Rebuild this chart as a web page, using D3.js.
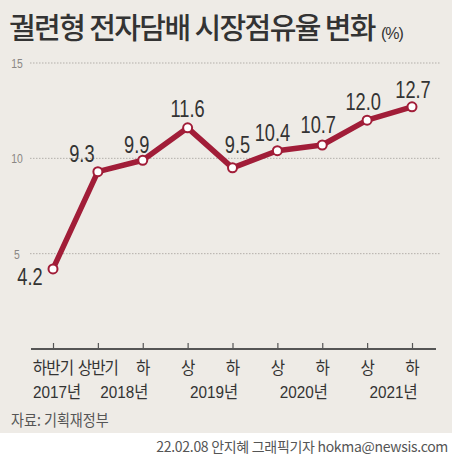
<!DOCTYPE html>
<html>
<head>
<meta charset="utf-8">
<script src="https://cdn.jsdelivr.net/npm/d3@7"></script>
<style>
  body { margin: 0; background: #fff; }
  svg { display: block; }
  .num { font-family: "Liberation Sans", "Noto Sans CJK KR", sans-serif; }
  .kr { font-family: "Noto Sans CJK KR", sans-serif; }
</style>
</head>
<body>
<script>
var width = 452;
var height = 459;

// data
var periods = ["하반기", "상반기", "하", "상", "하", "상", "하", "상", "하"];
var shares = [4.2, 9.3, 9.9, 11.6, 9.5, 10.4, 10.7, 12.0, 12.7];
var years = ["2017년", "2018년", "2019년", "2020년", "2021년"];
var yearSpans = [[0, 0], [1, 2], [3, 4], [5, 6], [7, 8]];
var yTicks = [5, 10, 15];

// label offsets relative to each point (dx, dy of baseline)
var labelPos = [[-23, 16], [-16, -10], [-6, -7], [0, -11], [5, -15], [-5, -10], [-4, -12], [-4, -10], [1, -9]];

var x = d3.scalePoint()
    .domain(d3.range(periods.length))
    .range([53, 412]);

var y = d3.scaleLinear()
    .domain([0, 15])
    .range([349, 63]);

var svg = d3.select("body")
    .append("svg")
    .attr("width", width)
    .attr("height", height);

svg.append("rect")
    .attr("width", width)
    .attr("height", 433)
    .attr("fill", "#eeebe6");

// condensed text helper
function squeeze(sel, sx) {
    sel.attr("transform", function () {
        var t = d3.select(this);
        return "translate(" + t.attr("x") + "," + t.attr("y") + ") scale(" + sx + ",1)";
    }).attr("x", 0).attr("y", 0);
}

// title
var title = svg.append("text")
    .attr("x", 9)
    .attr("y", 39)
    .attr("class", "kr")
    .attr("font-size", "29px")
    .attr("font-weight", 500)
    .attr("fill", "#333")
    .attr("letter-spacing", "-1.6px")
    .text("궐련형 전자담배 시장점유율 변화");
title.append("tspan")
    .attr("font-size", "16px")
    .attr("font-weight", 400)
    .attr("dx", 6)
    .attr("letter-spacing", "-1px")
    .attr("class", "num")
    .text("(%)");

// grid
svg.selectAll(".grid")
    .data(yTicks)
    .enter()
    .append("line")
    .attr("x1", 30)
    .attr("x2", 440)
    .attr("y1", function (d) { return y(d); })
    .attr("y2", function (d) { return y(d); })
    .attr("stroke", "#b3afaa")
    .attr("stroke-width", 1)
    .attr("stroke-dasharray", "1.5,1.5");

svg.selectAll(".ytick")
    .data(yTicks)
    .enter()
    .append("text")
    .attr("class", "num")
    .attr("x", 17)
    .attr("y", function (d) { return y(d) + 5; })
    .attr("text-anchor", "middle")
    .attr("font-size", "13px")
    .attr("fill", "#8a8784")
    .text(function (d) { return d; })
    .call(squeeze, 0.8);

// x axis
var xAxis = d3.axisTop(x).tickSize(6).tickFormat("");
var gx = svg.append("g")
    .attr("transform", "translate(0," + y(0) + ")")
    .call(xAxis);
gx.select(".domain").remove();
gx.selectAll("line").attr("stroke", "#555").attr("stroke-width", 1.2);
gx.append("line")
    .attr("x1", 31)
    .attr("x2", 436)
    .attr("stroke", "#555")
    .attr("stroke-width", 2);

svg.selectAll(".period")
    .data(periods)
    .enter()
    .append("text")
    .attr("class", "kr")
    .attr("x", function (d, i) { return x(i); })
    .attr("y", 374)
    .attr("text-anchor", "middle")
    .attr("font-size", "17px")
    .attr("fill", "#333")
    .attr("letter-spacing", "-1px")
    .text(function (d) { return d; })
    .call(squeeze, 0.92);

svg.selectAll(".year")
    .data(years)
    .enter()
    .append("text")
    .attr("class", "num")
    .attr("x", function (d, i) { return (x(yearSpans[i][0]) + x(yearSpans[i][1])) / 2 + 4; })
    .attr("y", 398)
    .attr("text-anchor", "middle")
    .attr("font-size", "17px")
    .attr("fill", "#333")
    .text(function (d) { return d; })
    .call(squeeze, 0.9);

svg.append("text")
    .attr("class", "kr")
    .attr("x", 11)
    .attr("y", 426)
    .attr("font-size", "16px")
    .attr("fill", "#555")
    .text("자료: 기획재정부")
    .call(squeeze, 0.88);

svg.append("text")
    .attr("class", "kr")
    .attr("x", 448)
    .attr("y", 452)
    .attr("text-anchor", "end")
    .attr("font-size", "14px")
    .attr("fill", "#555")
    .attr("letter-spacing", "-0.3px")
    .text("22.02.08 안지혜 그래픽기자 hokma@newsis.com");

// line
var line = d3.line()
    .x(function (d, i) { return x(i); })
    .y(function (d) { return y(d); });

svg.append("path")
    .datum(shares)
    .attr("d", line)
    .attr("fill", "none")
    .attr("stroke", "#a11d38")
    .attr("stroke-width", 5.5)
    .attr("stroke-linejoin", "round");

svg.selectAll(".dot")
    .data(shares)
    .enter()
    .append("circle")
    .attr("cx", function (d, i) { return x(i); })
    .attr("cy", function (d) { return y(d); })
    .attr("r", 4.5)
    .attr("fill", "#fff")
    .attr("stroke", "#a11d38")
    .attr("stroke-width", 2);

svg.selectAll(".val")
    .data(shares)
    .enter()
    .append("text")
    .attr("class", "num")
    .attr("x", function (d, i) { return x(i) + labelPos[i][0]; })
    .attr("y", function (d, i) { return y(d) + labelPos[i][1]; })
    .attr("text-anchor", "middle")
    .attr("font-size", "24px")
    .attr("fill", "#333")
    .text(function (d) { return d.toFixed(1); })
    .call(squeeze, 0.76);
</script>
</body>
</html>
